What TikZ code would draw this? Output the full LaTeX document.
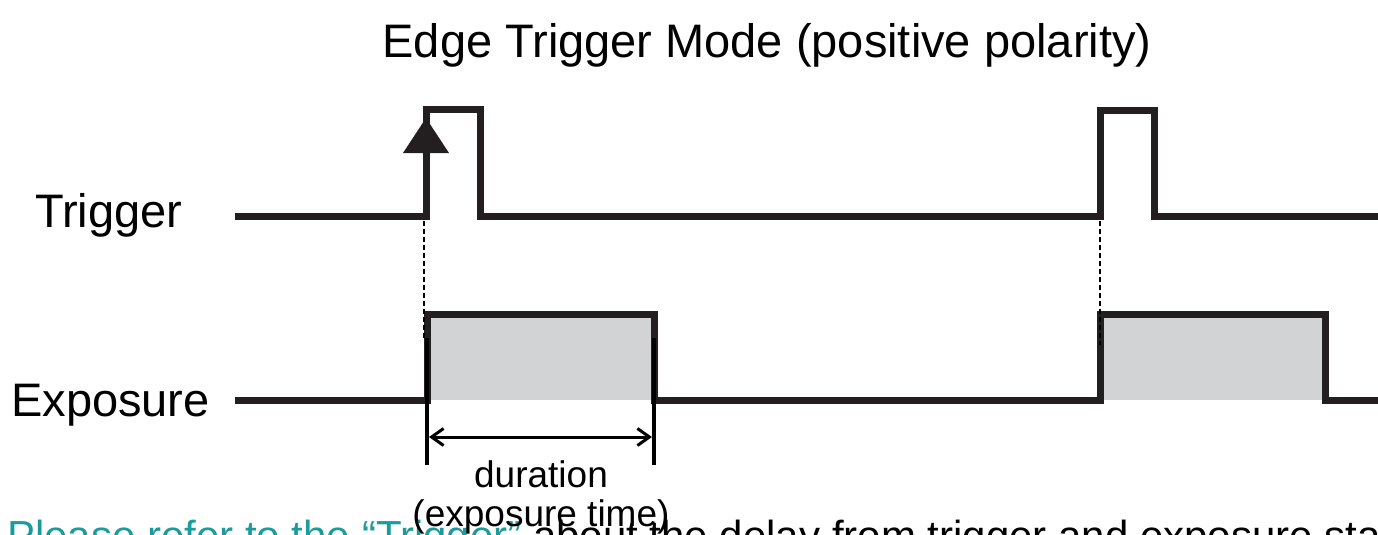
\documentclass[tikz,border=0pt]{standalone}
\usepackage{fontspec}
\setmainfont{Liberation Sans}
\usetikzlibrary{arrows.meta}
\definecolor{wavecol}{HTML}{231F20}
\definecolor{boxfill}{HTML}{D1D3D4}
\definecolor{linkteal}{HTML}{1A9C9C}
\begin{document}
\begin{tikzpicture}[x=1pt,y=-1pt,
  wave/.style={line width=7pt, draw=wavecol, line join=miter},
  guide/.style={line width=1.8pt, draw=black, dash pattern=on 5pt off 3pt},
  marker/.style={line width=3.5pt, draw=black},
  dimarrow/.style={line width=3pt, draw=black, {Straight Barb[length=12pt,width=17pt]}-{Straight Barb[length=12pt,width=17pt]}},
  lbl/.style={inner sep=0pt, font=\fontsize{47}{56}\selectfont},
  small/.style={inner sep=0pt, font=\fontsize{37}{42}\selectfont}]
\useasboundingbox (0,0) rectangle (1378,535);

% title
\node[lbl, anchor=base] (title) at (767,58) {Edge Trigger Mode (positive polarity)};

% labels
\node[lbl, anchor=base west] (trig) at (35,227) {Trigger};
\node[lbl, anchor=base west] (expo) at (11,416) {Exposure};

% trigger waveform coordinates
\coordinate (t0) at (235,216);
\coordinate (t1) at (426,216);
\coordinate (t2) at (426,109);
\coordinate (t3) at (480,109);
\coordinate (t4) at (480,216);
\coordinate (t5) at (1100,216);
\coordinate (t6) at (1100,110);
\coordinate (t7) at (1154,110);
\coordinate (t8) at (1154,216);
\coordinate (t9) at (1395,216);

% exposure waveform coordinates
\coordinate (e0) at (235,400);
\coordinate (e1) at (427,400);
\coordinate (e2) at (427,314);
\coordinate (e3) at (654,314);
\coordinate (e4) at (654,400);
\coordinate (e5) at (1100,400);
\coordinate (e6) at (1100,314);
\coordinate (e7) at (1325,314);
\coordinate (e8) at (1325,400);
\coordinate (e9) at (1395,400);

% bottom note (cut off by the picture's lower edge)
\node[inner sep=0pt, anchor=base west, font=\fontsize{42}{48}\selectfont] (note) at (7,550)
  {\textcolor{linkteal}{Please refer to the “Trigger”} about the delay from trigger and exposure start};

% exposure fills
\fill[boxfill] (e1) rectangle (e3);
\fill[boxfill] (e5) rectangle (e7);

% waveforms
\draw[wave] (t0) -- (t1) -- (t2) -- (t3) -- (t4) -- (t5) -- (t6) -- (t7) -- (t8) -- (t9);
\draw[wave] (e0) -- (e1) -- (e2) -- (e3) -- (e4) -- (e5) -- (e6) -- (e7) -- (e8) -- (e9);

% edge arrow on first trigger pulse
\coordinate (atip) at (426,118);
\coordinate (abl) at (403,153);
\coordinate (abr) at (449,153);
\fill[wavecol] (atip) -- (abl) -- (abr) -- cycle;

% dashed guides
\coordinate (g1a) at (424,221);
\coordinate (g1b) at (424,338);
\coordinate (g2a) at (1100,221);
\coordinate (g2b) at (1100,345);
\draw[guide] (g1a) -- (g1b);
\draw[guide] (g2a) -- (g2b);

% duration markers
\coordinate (m1a) at (427,338);
\coordinate (m1b) at (427,465);
\coordinate (m2a) at (654,338);
\coordinate (m2b) at (654,465);
\draw[marker] (m1a) -- (m1b);
\draw[marker] (m2a) -- (m2b);
\coordinate (d1) at (429,437);
\coordinate (d2) at (652,437);
\draw[dimarrow] (d1) -- (d2);

\node[small, anchor=base] (dur) at (541,487) {duration};
\node[small, anchor=base] (exptime) at (541,526) {(exposure time)};
\end{tikzpicture}
\end{document}
